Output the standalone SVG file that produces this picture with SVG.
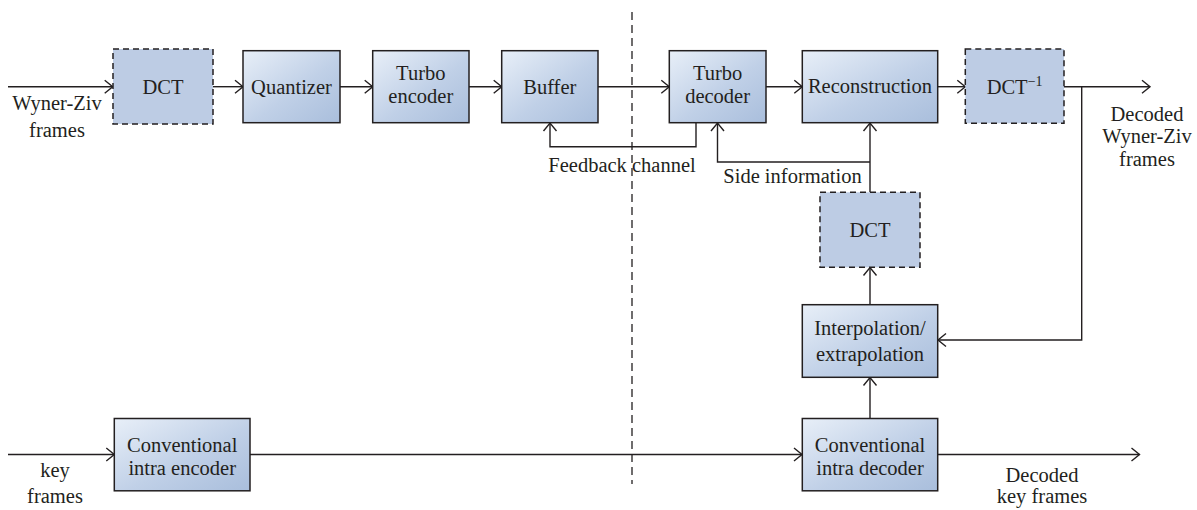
<svg xmlns="http://www.w3.org/2000/svg" width="1197" height="510" viewBox="0 0 1197 510">
  <style>
    .box { fill: url(#boxFill); stroke: #231f20; stroke-width: 1.5; }
    .dbox { fill: #bdcce4; stroke: #231f20; stroke-width: 1.5; stroke-dasharray: 6 4; }
    .wire { fill: none; stroke: #231f20; stroke-width: 1.4; }
    .arrow { fill: none; stroke: #231f20; stroke-width: 1.4; marker-end: url(#chev); }
    .divider { fill: none; stroke: #231f20; stroke-width: 1.3; stroke-dasharray: 8 5; }
    text { font-family: "Liberation Serif", "Times New Roman", serif; font-size: 20.5px; fill: #231f20; }
    .c { text-anchor: middle; }
  </style>
  <defs>
    <linearGradient id="boxFill" x1="0" y1="0" x2="1" y2="1">
      <stop offset="0" stop-color="#e8eff8"/>
      <stop offset="0.55" stop-color="#c0d0e7"/>
      <stop offset="1" stop-color="#a9bedc"/>
    </linearGradient>
    <marker id="chev" markerUnits="userSpaceOnUse" viewBox="-10 -8 12 16" markerWidth="12" markerHeight="16" refX="0" refY="0" orient="auto">
      <path d="M-8,-6.5 L0,0 L-8,6.5" fill="none" stroke="#231f20" stroke-width="1.4"/>
    </marker>
  </defs>

  <!-- encoder / decoder split -->
  <g id="divider">
    <line class="divider" x1="632" y1="12" x2="632" y2="484"/>
  </g>

  <g id="connectors">
    <!-- Wyner-Ziv path -->
    <line class="arrow" x1="8" y1="86.7" x2="112.7" y2="86.7"/>
    <line class="arrow" x1="213" y1="86.7" x2="243" y2="86.7"/>
    <line class="arrow" x1="340" y1="86.7" x2="372.7" y2="86.7"/>
    <line class="arrow" x1="469" y1="86.7" x2="501.7" y2="86.7"/>
    <line class="arrow" x1="598" y1="86.7" x2="669.3" y2="86.7"/>
    <line class="arrow" x1="766" y1="86.7" x2="802.3" y2="86.7"/>
    <line class="arrow" x1="937.7" y1="86.7" x2="965.3" y2="86.7"/>
    <line class="arrow" x1="1064" y1="86.7" x2="1150" y2="86.7"/>
    <!-- feedback channel -->
    <polyline class="arrow" points="696,122.7 696,146.7 550,146.7 550,123"/>
    <!-- side information -->
    <polyline class="arrow" points="870,192.3 870,162 870,123"/>
    <polyline class="arrow" points="870,162 717.5,162 717.5,123"/>
    <line class="arrow" x1="870" y1="304.7" x2="870" y2="267.5"/>
    <line class="arrow" x1="870" y1="418.5" x2="870" y2="377.5"/>
    <!-- decoded frames fed back to interpolation -->
    <polyline class="arrow" points="1081.7,86.7 1081.7,340 938,340"/>
    <!-- key frame path -->
    <line class="arrow" x1="8" y1="454.5" x2="114.3" y2="454.5"/>
    <line class="arrow" x1="250" y1="454.5" x2="802" y2="454.5"/>
    <line class="arrow" x1="937.7" y1="454.5" x2="1139.5" y2="454.5"/>
  </g>

  <g id="dct-enc">
    <rect class="dbox" x="113" y="49" width="100" height="75"/>
    <text class="c" x="163" y="94">DCT</text>
  </g>
  <g id="quantizer">
    <rect class="box" x="243" y="50.7" width="97" height="72"/>
    <text class="c" x="291.5" y="93.5">Quantizer</text>
  </g>
  <g id="turbo-encoder">
    <rect class="box" x="372.7" y="50.7" width="96.3" height="72"/>
    <text class="c" x="420.8" y="80">Turbo</text>
    <text class="c" x="420.8" y="102.7">encoder</text>
  </g>
  <g id="buffer">
    <rect class="box" x="501.7" y="50.7" width="96.3" height="72"/>
    <text class="c" x="549.8" y="93.5">Buffer</text>
  </g>
  <g id="turbo-decoder">
    <rect class="box" x="669.3" y="50.7" width="96.7" height="72"/>
    <text class="c" x="717.6" y="80">Turbo</text>
    <text class="c" x="717.6" y="102.7">decoder</text>
  </g>
  <g id="reconstruction">
    <rect class="box" x="802.3" y="50.7" width="135.4" height="72"/>
    <text class="c" x="870" y="93">Reconstruction</text>
  </g>
  <g id="idct">
    <rect class="dbox" x="965.3" y="49" width="98.7" height="74.3"/>
    <text class="c" x="1014.6" y="94">DCT<tspan font-size="14" dy="-8">−1</tspan></text>
  </g>
  <g id="dct-side">
    <rect class="dbox" x="820" y="192.3" width="100" height="75"/>
    <text class="c" x="870" y="237">DCT</text>
  </g>
  <g id="interpolation">
    <rect class="box" x="802.3" y="304.7" width="135.4" height="72.6"/>
    <text class="c" x="870" y="335">Interpolation/</text>
    <text class="c" x="870" y="361">extrapolation</text>
  </g>
  <g id="intra-encoder">
    <rect class="box" x="114.3" y="418.5" width="135.7" height="72.3"/>
    <text class="c" x="182.2" y="452">Conventional</text>
    <text class="c" x="182.2" y="475">intra encoder</text>
  </g>
  <g id="intra-decoder">
    <rect class="box" x="802.3" y="418.5" width="135.4" height="72.3"/>
    <text class="c" x="870" y="452">Conventional</text>
    <text class="c" x="870" y="475">intra decoder</text>
  </g>

  <g id="labels">
    <text class="c" x="57" y="110">Wyner-Ziv</text>
    <text class="c" x="57" y="136.5">frames</text>
    <text class="c" x="55" y="477">key</text>
    <text class="c" x="55" y="503">frames</text>
    <text x="548.3" y="171.7">Feedback channel</text>
    <text x="723.3" y="183.3">Side information</text>
    <text class="c" x="1147" y="121">Decoded</text>
    <text class="c" x="1147" y="143">Wyner-Ziv</text>
    <text class="c" x="1147" y="165.5">frames</text>
    <text class="c" x="1042" y="481.7">Decoded</text>
    <text class="c" x="1042" y="503.3">key frames</text>
  </g>
</svg>
